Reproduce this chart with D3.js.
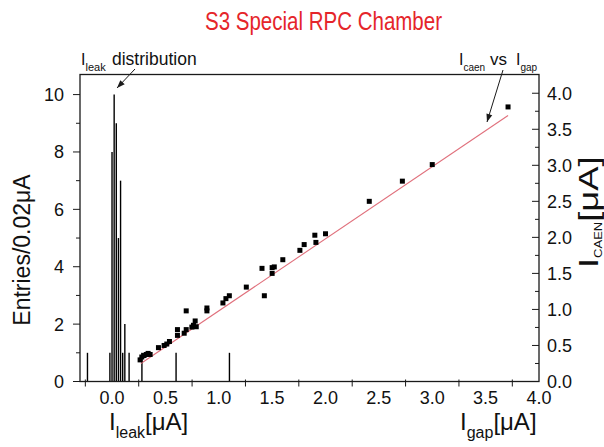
<!DOCTYPE html>
<html>
<head>
<meta charset="utf-8">
<script src="https://cdn.jsdelivr.net/npm/d3@7"></script>
<style>
  body { margin: 0; background: #fff; }
  svg { display: block; }
  text { font-family: "Liberation Sans", Arial, Helvetica, sans-serif; fill: #111; }
</style>
</head>
<body>
<svg id="chart" width="604" height="447"></svg>
<script>
// Leakage-current histogram: left edges of the 0.02 µA bins and their entries
const leakBinStart = [-0.24, -0.03, -0.01, 0.01, 0.03, 0.05, 0.07, 0.09, 0.11, 0.15, 0.27, 0.59, 1.09];
const leakEntries  = [1, 1, 8, 10, 9, 5, 7, 1, 2, 1, 1, 1, 1];
const leakBinWidth = 0.02;

// Current read by the CAEN supply against the gap current (µA)
const gapCurrent  = [0.263, 0.279, 0.30, 0.32, 0.338, 0.357, 0.435, 0.488, 0.513, 0.538,
                     0.613, 0.613, 0.676, 0.695, 0.695, 0.748, 0.763, 0.779, 0.789, 0.889,
                     0.889, 1.039, 1.067, 1.099, 1.258, 1.405, 1.427, 1.50, 1.50, 1.52,
                     1.60, 1.76, 1.80, 1.90, 1.91, 2.00, 2.41, 2.72, 3.00, 3.71];
const caenCurrent = [0.30, 0.34, 0.36, 0.375, 0.39, 0.375, 0.47, 0.50, 0.52, 0.555,
                     0.64, 0.72, 0.67, 0.72, 0.98, 0.755, 0.78, 0.84, 0.76, 1.02,
                     0.98, 1.09, 1.15, 1.19, 1.31, 1.57, 1.19, 1.50, 1.58, 1.59,
                     1.69, 1.82, 1.90, 2.03, 1.93, 2.05, 2.50, 2.78, 3.01, 3.81];

// Linear fit of I_CAEN against I_gap
const fitSlope = 1.0;
const fitIntercept = -0.02;
const fitFrom = 0.27, fitTo = 3.71;

// Axis ticks and labels
const entriesMajor = [0, 2, 4, 6, 8, 10];
const entriesMinor = [1, 3, 5, 7, 9];
const caenMajor = [0, 0.5, 1.0, 1.5, 2.0, 2.5, 3.0, 3.5, 4.0];
const caenMinor = [0.25, 0.75, 1.25, 1.75, 2.25, 2.75, 3.25, 3.75];
const currentLabels = [0, 0.5, 1.0, 1.5, 2.0, 2.5, 3.0, 3.5, 4.0];
const currentTicks = [-0.25, 0.25, 0.75, 1.25, 1.75, 2.25, 2.75, 3.25, 3.75];

const titleText = "S3 Special RPC Chamber";

// ---- layout ----
const L = 80, R = 539, T = 74.5, B = 381.5;
const svg = d3.select("#chart");

const x = d3.scaleLinear().domain([-0.3, 4.0]).range([L, R]);
const yEntries = d3.scaleLinear().domain([0, 10.7]).range([B, T]);
const yCaen = d3.scaleLinear().domain([0, 4.26]).range([B, T]);

const ink = "#1a1a1a";

// Title (slightly condensed)
svg.append("text")
  .attr("x", 205).attr("y", 30)
  .attr("textLength", 237).attr("lengthAdjust", "spacingAndGlyphs")
  .style("font-size", "25px")
  .style("fill", "#e5252a")
  .text(titleText);

// Histogram drawn as drop lines at the bin centres
svg.append("g").selectAll("line")
  .data(leakBinStart.map((s, i) => ({ c: s + leakBinWidth / 2, n: leakEntries[i] })))
  .join("line")
  .attr("x1", d => x(d.c)).attr("x2", d => x(d.c))
  .attr("y1", yEntries(0)).attr("y2", d => yEntries(d.n))
  .attr("stroke", "#000").attr("stroke-width", 1.4);

// Fit line
svg.append("line")
  .attr("x1", x(fitFrom)).attr("y1", yCaen(fitIntercept + fitSlope * fitFrom))
  .attr("x2", x(fitTo)).attr("y2", yCaen(fitIntercept + fitSlope * fitTo))
  .attr("stroke", "#e0707c").attr("stroke-width", 1.1);

// Scatter points
const sq = 5;
svg.append("g").selectAll("rect")
  .data(gapCurrent.map((g, i) => [g, caenCurrent[i]]))
  .join("rect")
  .attr("x", d => x(d[0]) - sq / 2)
  .attr("y", d => yCaen(d[1]) - sq / 2)
  .attr("width", sq).attr("height", sq)
  .attr("fill", "#000");

// Frame
svg.append("rect")
  .attr("x", L).attr("y", T).attr("width", R - L).attr("height", B - T)
  .attr("fill", "none").attr("stroke", ink).attr("stroke-width", 1.3);

// Left axis: entries per bin
const gl = svg.append("g");
gl.selectAll("line.maj").data(entriesMajor).join("line").attr("class", "maj")
  .attr("x1", L - 7).attr("x2", L).attr("y1", d => yEntries(d)).attr("y2", d => yEntries(d))
  .attr("stroke", ink);
gl.selectAll("line.min").data(entriesMinor).join("line").attr("class", "min")
  .attr("x1", L - 4).attr("x2", L).attr("y1", d => yEntries(d)).attr("y2", d => yEntries(d))
  .attr("stroke", ink);
gl.selectAll("text").data(entriesMajor).join("text")
  .attr("x", 64).attr("y", d => yEntries(d) + 6.5)
  .attr("text-anchor", "end").style("font-size", "18px")
  .text(d => d);

// Right axis: CAEN current
const gr = svg.append("g");
gr.selectAll("line.maj").data(caenMajor).join("line").attr("class", "maj")
  .attr("x1", R - 7).attr("x2", R).attr("y1", d => yCaen(d)).attr("y2", d => yCaen(d))
  .attr("stroke", ink);
gr.selectAll("line.min").data(caenMinor).join("line").attr("class", "min")
  .attr("x1", R - 4).attr("x2", R).attr("y1", d => yCaen(d)).attr("y2", d => yCaen(d))
  .attr("stroke", ink);
gr.selectAll("text").data(caenMajor).join("text")
  .attr("x", R + 8).attr("y", d => yCaen(d) + 6.5)
  .style("font-size", "18px")
  .text(d => d3.format(".1f")(d));

// Bottom axis: shared current scale
const gb = svg.append("g");
gb.selectAll("line").data(currentTicks).join("line")
  .attr("x1", d => x(d)).attr("x2", d => x(d))
  .attr("y1", B - 2).attr("y2", B + 5)
  .attr("stroke", ink);
gb.selectAll("text").data(currentLabels).join("text")
  .attr("x", d => x(d)).attr("y", 404)
  .attr("text-anchor", "middle").style("font-size", "18px")
  .text(d => d3.format(".1f")(d));

// Axis titles
function subLabel(g, main, sub, unit, mainSize, subSize, subDrop) {
  const t = g.append("text").style("font-size", mainSize + "px");
  t.append("tspan").text(main);
  t.append("tspan").style("font-size", subSize + "px").attr("dy", subDrop).text(sub);
  t.append("tspan").attr("dy", -subDrop).text(unit);
  return t;
}

subLabel(svg.append("g").attr("transform", "translate(109,430)"), "I", "leak", "[\u03BCA]", 24, 16, 8);
subLabel(svg.append("g").attr("transform", "translate(460,430)"), "I", "gap", "[\u03BCA]", 24, 16, 8);

svg.append("text")
  .attr("transform", "translate(30,250) rotate(-90)")
  .attr("text-anchor", "middle")
  .style("font-size", "23px")
  .text("Entries/0.02\u03BCA");

subLabel(svg.append("g").attr("transform", "translate(598,268) rotate(-90) scale(1.3,1)"),
  "I", "CAEN", "[\u03BCA]", 28, 10, 4);

// Annotations with arrows
function arrow(x1, y1, x2, y2) {
  svg.append("line").attr("x1", x1).attr("y1", y1).attr("x2", x2).attr("y2", y2)
    .attr("stroke", ink).attr("stroke-width", 1);
  const a = Math.atan2(y2 - y1, x2 - x1), len = 8, w = 3;
  const bx = x2 - len * Math.cos(a), by = y2 - len * Math.sin(a);
  const px = -Math.sin(a) * w, py = Math.cos(a) * w;
  svg.append("path")
    .attr("d", `M${x2},${y2}L${bx + px},${by + py}L${bx - px},${by - py}Z`)
    .attr("fill", ink);
}

const a1 = svg.append("text").attr("x", 81).attr("y", 65).style("font-size", "16px");
a1.append("tspan").text("I");
a1.append("tspan").attr("dy", 6).style("font-size", "11px").text("leak");
a1.append("tspan").attr("dy", -6).attr("x", 112).style("font-size", "17.5px").text("distribution");
arrow(135, 69, 117, 88);

const a2 = svg.append("text").attr("x", 459).attr("y", 65).style("font-size", "16px");
a2.append("tspan").text("I");
a2.append("tspan").attr("dy", 6).style("font-size", "10px").text("caen");
a2.append("tspan").attr("dy", -6).attr("x", 490).style("font-size", "17px").text("vs");
a2.append("tspan").attr("x", 516).text("I");
a2.append("tspan").attr("dy", 6).style("font-size", "10px").text("gap");
arrow(503, 70, 487, 122);
</script>
</body>
</html>
